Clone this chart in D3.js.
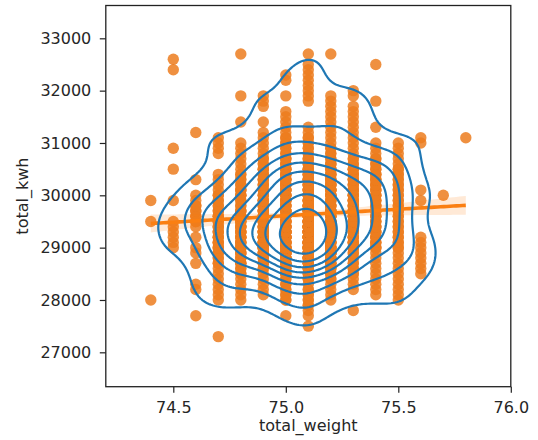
<!DOCTYPE html>
<html>
<head>
<meta charset="utf-8">
<script src="https://cdn.jsdelivr.net/npm/d3@7"></script>
<style>
body { margin: 0; background: #fff; }
svg text { font-family: "DejaVu Sans", sans-serif; fill: #262626; }
</style>
</head>
<body>
<div id="chart"></div>
<script>
var weights = [74.4, 74.5, 74.6, 74.7, 74.8, 74.9, 75.0, 75.1, 75.2, 75.3, 75.4, 75.5, 75.6, 75.7, 75.8];

var kwhLevels = [27300, 27400, 27500, 27600, 27700, 27800, 27900,
	28000, 28100, 28200, 28300, 28400, 28500, 28600, 28700, 28800, 28900,
	29000, 29100, 29200, 29300, 29400, 29500, 29600, 29700, 29800, 29900,
	30000, 30100, 30200, 30300, 30400, 30500, 30600, 30700, 30800, 30900,
	31000, 31100, 31200, 31300, 31400, 31500, 31600, 31700, 31800, 31900,
	32000, 32100, 32200, 32300, 32400, 32500, 32600, 32700];

// number of observations at each kwh level, one row per weight
var counts = [
	[0,0,0,0,0,0,0, 1,0,0,0,0,0,0,0,0,0, 0,0,0,0,0,1,0,0,0,1, 0,0,0,0,0,0,0,0,0,0, 0,0,0,0,0,0,0,0,0,0, 0,0,0,0,0,0,0,0],
	[0,0,0,0,0,0,0, 0,0,0,0,0,0,0,0,0,0, 1,1,1,1,1,1,0,0,0,1, 0,0,0,0,0,1,0,0,0,1, 0,0,0,0,0,0,0,0,0,0, 0,0,0,0,1,0,1,0],
	[0,0,0,0,1,0,0, 0,0,1,1,0,0,0,1,0,1, 1,0,1,0,1,2,2,2,2,1, 1,0,0,1,0,0,0,0,0,0, 0,0,1,0,0,0,0,0,0,0, 0,0,0,0,0,0,0,0],
	[1,0,0,0,0,0,0, 1,1,1,1,1,1,1,2,2,2, 3,3,3,3,3,3,3,2,2,2, 2,1,1,1,1,0,0,0,1,1, 1,1,0,0,0,0,0,0,0,0, 0,0,0,0,0,0,0,0],
	[0,0,0,0,0,0,0, 1,1,1,1,1,2,2,3,3,3, 4,4,4,4,4,4,4,3,2,2, 3,3,2,2,2,1,1,1,1,1, 1,0,0,0,1,0,0,0,0,1, 0,0,0,0,0,0,0,1],
	[0,0,0,0,0,0,0, 0,1,1,1,1,1,2,3,3,4, 6,6,6,6,5,5,5,5,4,4, 3,3,3,3,3,3,2,2,1,1, 1,1,1,0,1,0,0,1,1,1, 0,0,0,0,0,0,0,0],
	[0,0,0,0,1,0,0, 2,2,2,2,2,3,4,5,6,6, 7,8,8,8,7,7,6,6,5,5, 5,5,5,5,4,4,3,3,2,2, 2,2,1,1,1,1,1,0,0,1, 0,0,1,1,0,0,0,0],
	[0,0,1,0,1,1,2, 2,2,2,1,3,3,4,5,8,9, 10,11,11,11,11,10,9,8,7,6, 6,6,5,5,4,4,3,3,2,2, 2,2,1,1,0,0,0,0,1,1, 1,1,1,1,1,1,0,1],
	[0,0,0,0,0,0,0, 1,1,1,1,2,3,3,4,4,5, 6,6,6,6,6,6,5,5,4,4, 5,5,5,4,4,3,3,2,2,2, 1,1,1,1,1,1,1,1,1,1, 0,0,0,0,0,0,0,1],
	[0,0,0,0,0,1,0, 0,0,1,1,1,2,2,2,2,2, 4,4,4,4,4,4,4,4,4,4, 4,4,3,3,3,3,2,2,1,1, 1,1,1,1,1,1,1,1,0,1, 1,0,0,0,0,0,0,0],
	[0,0,0,0,0,0,0, 0,1,1,1,1,1,1,1,1,1, 3,3,3,3,3,3,3,3,3,3, 3,3,3,3,3,2,2,2,1,1, 1,0,0,1,0,0,0,0,1,0, 0,0,0,0,0,1,0,0],
	[0,0,0,0,0,0,0, 1,1,1,1,1,1,1,1,1,1, 2,2,2,2,2,2,2,2,2,2, 2,2,2,2,2,2,1,1,1,1, 1,0,0,0,0,0,0,0,0,0, 0,0,0,0,0,0,0,0],
	[0,0,0,0,0,0,0, 0,0,0,0,0,1,1,1,1,1, 1,1,1,0,0,0,0,0,0,1, 0,1,0,0,0,0,0,0,0,0, 1,1,0,0,0,0,0,0,0,0, 0,0,0,0,0,0,0,0],
	[0,0,0,0,0,0,0, 0,0,0,0,0,0,0,0,0,0, 0,0,0,0,0,0,0,0,0,0, 1,0,0,0,0,0,0,0,0,0, 0,0,0,0,0,0,0,0,0,0, 0,0,0,0,0,0,0,0],
	[0,0,0,0,0,0,0, 0,0,0,0,0,0,0,0,0,0, 0,0,0,0,0,0,0,0,0,0, 0,0,0,0,0,0,0,0,0,0, 0,1,0,0,0,0,0,0,0,0, 0,0,0,0,0,0,0,0]
];

var xTicks = [74.5, 75.0, 75.5, 76.0];
var yTicks = [27000, 28000, 29000, 30000, 31000, 32000, 33000];

var chart = {};

chart.init = function(){
	chart.width = 538;
	chart.height = 440;
	chart.left = 105.8; chart.right = 510.8;
	chart.top = 5.5; chart.bottom = 386.7;

	chart.svg = d3.select("#chart").append("svg")
		.attr("width", chart.width)
		.attr("height", chart.height);

	chart.x = d3.scaleLinear().domain([74.2, 76.0]).range([chart.left, chart.right]);
	chart.y = d3.scaleLinear().domain([26343, 33627]).range([chart.bottom, chart.top]);

	// unique points with their weight, and the expanded observations
	chart.cells = [];
	chart.obs = [];
	weights.forEach(function(w, i){
		counts[i].forEach(function(c, j){
			if (!c) return;
			chart.cells.push({x: w, y: kwhLevels[j], n: c});
			for (var k = 0; k < c; k++) chart.obs.push({x: w, y: kwhLevels[j]});
		});
	});
};

chart.kde = function(){
	var cells = chart.cells;
	var n = d3.sum(cells, function(d){ return d.n; });
	var mx = d3.sum(cells, function(d){ return d.n * d.x; }) / n;
	var my = d3.sum(cells, function(d){ return d.n * d.y; }) / n;
	var sxx = 0, syy = 0, sxy = 0;
	cells.forEach(function(d){
		sxx += d.n * (d.x - mx) * (d.x - mx);
		syy += d.n * (d.y - my) * (d.y - my);
		sxy += d.n * (d.x - mx) * (d.y - my);
	});
	var f2 = Math.pow(n, -1 / 3);
	var cxx = sxx / (n - 1) * f2, cyy = syy / (n - 1) * f2, cxy = sxy / (n - 1) * f2;
	var det = cxx * cyy - cxy * cxy;
	var ixx = cyy / det, iyy = cxx / det, ixy = -cxy / det;

	var size = 200, cut = 3;
	var bx = Math.sqrt(cxx), by = Math.sqrt(cyy);
	var x0 = d3.min(cells, function(d){ return d.x; }) - cut * bx;
	var x1 = d3.max(cells, function(d){ return d.x; }) + cut * bx;
	var y0 = d3.min(cells, function(d){ return d.y; }) - cut * by;
	var y1 = d3.max(cells, function(d){ return d.y; }) + cut * by;
	var sx = (x1 - x0) / (size - 1), sy = (y1 - y0) / (size - 1);

	var values = new Float64Array(size * size);
	for (var j = 0; j < size; j++) {
		var gy = y0 + j * sy;
		for (var i = 0; i < size; i++) {
			var gx = x0 + i * sx, v = 0;
			for (var k = 0; k < cells.length; k++) {
				var dx = gx - cells[k].x, dy = gy - cells[k].y;
				v += cells[k].n * Math.exp(-0.5 * (dx * dx * ixx + 2 * dx * dy * ixy + dy * dy * iyy));
			}
			values[j * size + i] = v;
		}
	}

	// iso-proportion levels, like seaborn's kdeplot defaults
	var sorted = Array.from(values).sort(function(a, b){ return b - a; });
	var total = d3.sum(sorted), acc = 0;
	var cum = sorted.map(function(v){ acc += v; return acc / total; });
	var props = d3.range(10).map(function(i){ return 0.05 + i * 0.95 / 9; }).slice(0, 9);
	var levels = props.map(function(p){
		var idx = d3.bisectLeft(cum, 1 - p);
		return sorted[Math.min(idx, sorted.length - 1)];
	});

	return {values: values, size: size, levels: levels, x0: x0, y0: y0, sx: sx, sy: sy};
};

chart.regression = function(){
	var obs = chart.obs, n = obs.length;
	var mx = d3.mean(obs, function(d){ return d.x; });
	var my = d3.mean(obs, function(d){ return d.y; });
	var sxx = d3.sum(obs, function(d){ return (d.x - mx) * (d.x - mx); });
	var sxy = d3.sum(obs, function(d){ return (d.x - mx) * (d.y - my); });
	var b = sxy / sxx, a = my - b * mx;
	var s2 = d3.sum(obs, function(d){ var r = d.y - a - b * d.x; return r * r; }) / (n - 2);
	var lo = d3.min(obs, function(d){ return d.x; }), hi = d3.max(obs, function(d){ return d.x; });
	return d3.range(101).map(function(i){
		var xv = lo + (hi - lo) * i / 100;
		var se = Math.sqrt(s2 * (1 / n + (xv - mx) * (xv - mx) / sxx));
		var yv = a + b * xv;
		return {x: xv, y: yv, lo: yv - 1.96 * se, hi: yv + 1.96 * se};
	});
};

chart.render = function(){
	var x = chart.x, y = chart.y, svg = chart.svg;

	svg.append("rect").attr("width", chart.width).attr("height", chart.height).attr("fill", "#fff");

	svg.append("g").selectAll("circle")
		.data(chart.obs)
		.enter().append("circle")
		.attr("cx", function(d){ return x(d.x); })
		.attr("cy", function(d){ return y(d.y); })
		.attr("r", 5.7)
		.attr("fill", "#ec7d1e")
		.attr("fill-opacity", 0.85);

	var fit = chart.regression();
	svg.append("path")
		.datum(fit)
		.attr("fill", "#ff7f0e")
		.attr("fill-opacity", 0.17)
		.attr("d", d3.area()
			.x(function(d){ return x(d.x); })
			.y0(function(d){ return y(d.lo); })
			.y1(function(d){ return y(d.hi); }));
	svg.append("path")
		.datum(fit)
		.attr("fill", "none")
		.attr("stroke", "#fa7f12")
		.attr("stroke-width", 3.6)
		.attr("d", d3.line()
			.x(function(d){ return x(d.x); })
			.y(function(d){ return y(d.y); }));

	var k = chart.kde();
	var contours = d3.contours().size([k.size, k.size]).thresholds(k.levels)(k.values);
	var path = d3.geoPath(d3.geoTransform({
		point: function(px, py){
			this.stream.point(x(k.x0 + (px - 0.5) * k.sx), y(k.y0 + (py - 0.5) * k.sy));
		}
	}));
	svg.append("g").selectAll("path")
		.data(contours)
		.enter().append("path")
		.attr("fill", "none")
		.attr("stroke", "#1f77b4")
		.attr("stroke-width", 2.2)
		.attr("d", path);

	var xAxis = svg.append("g")
		.attr("transform", "translate(0," + chart.bottom + ")")
		.call(d3.axisBottom(x).tickValues(xTicks).tickFormat(d3.format(".1f"))
			.tickSize(6).tickSizeOuter(0).tickPadding(9.4));
	var yAxis = svg.append("g")
		.attr("transform", "translate(" + chart.left + ",0)")
		.call(d3.axisLeft(y).tickValues(yTicks).tickFormat(d3.format("d"))
			.tickSize(6).tickSizeOuter(0).tickPadding(8.5));
	[xAxis, yAxis].forEach(function(g){
		g.select(".domain").remove();
		g.attr("font-size", 16).attr("font-family", "DejaVu Sans, sans-serif");
		g.selectAll("line").attr("stroke", "#222").attr("stroke-width", 1.2);
	});

	svg.append("rect")
		.attr("x", chart.left).attr("y", chart.top)
		.attr("width", chart.right - chart.left).attr("height", chart.bottom - chart.top)
		.attr("fill", "none").attr("stroke", "#222").attr("stroke-width", 1.3);

	svg.append("text")
		.attr("x", (chart.left + chart.right) / 2).attr("y", 431)
		.attr("text-anchor", "middle").attr("font-size", 16)
		.text("total_weight");
	svg.append("text")
		.attr("transform", "translate(28," + (chart.top + chart.bottom) / 2 + ") rotate(-90)")
		.attr("text-anchor", "middle").attr("font-size", 16)
		.text("total_kwh");
};

chart.init();
chart.render();
</script>
</body>
</html>
